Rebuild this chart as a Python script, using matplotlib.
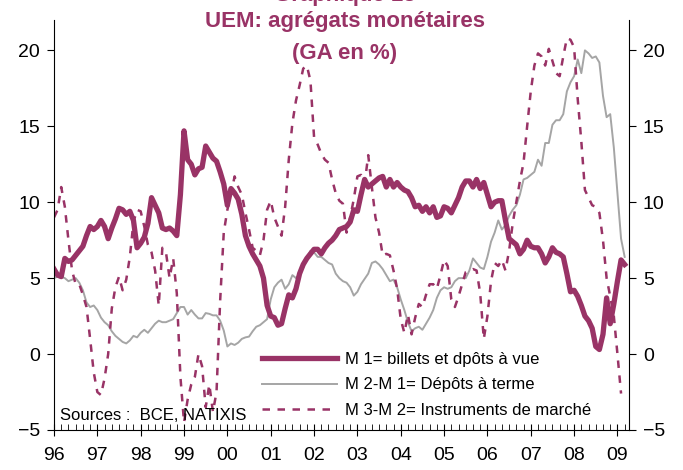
import numpy as np
import matplotlib.pyplot as plt
from matplotlib.ticker import MultipleLocator

plt.rcParams['font.family'] = ['Liberation Sans', 'DejaVu Sans']

# series mensuelles, janvier 1996 -> mars 2009 (GA en %)
debut = 1996
m1 = [5.6, 5.2, 5.1, 6.3, 6.1, 6.2, 6.5, 6.8, 7.1, 7.8, 8.4, 8.2,
      8.4, 8.8, 8.4, 7.6, 8.3, 8.9, 9.6, 9.5, 9.2, 9.4, 8.8, 7.0,
      7.3, 7.7, 8.6, 10.3, 9.8, 9.3, 8.3, 8.2, 8.3, 8.1, 7.8, 10.5,
      14.7, 12.8, 12.5, 11.8, 12.2, 12.3, 13.7, 13.3, 12.9, 12.7, 12.0, 11.2,
      9.8, 10.9, 10.6, 10.2, 9.2, 7.8, 7.1, 6.6, 6.2, 5.8, 5.0, 3.2,
      2.5, 2.4, 1.9, 2.0, 3.0, 3.9, 3.7, 4.3, 5.3, 5.9, 6.3, 6.6,
      6.9, 6.9, 6.6, 7.0, 7.3, 7.5, 7.8, 8.2, 8.3, 8.4, 8.7, 9.5,
      9.4, 10.5, 11.5, 11.0, 11.2, 11.4, 11.6, 11.7, 11.0, 11.5, 11.0, 11.3,
      11.0, 10.8, 10.7, 10.3, 9.7, 9.8, 9.4, 9.7, 9.3, 9.7, 9.0, 9.1,
      9.7, 9.6, 9.3, 9.8, 10.3, 11.0, 11.4, 11.4, 11.0, 11.5, 10.9, 11.3,
      10.5, 9.7, 10.0, 10.1, 10.1, 8.8, 7.6, 7.4, 7.2, 6.6, 6.9, 7.5,
      7.1, 7.0, 7.0, 6.6, 6.0, 6.4, 7.0, 6.7, 6.6, 6.4, 5.3, 4.1,
      4.2, 3.8, 3.2, 2.5, 2.2, 1.7, 0.5, 0.3, 1.3, 3.7, 2.0, 3.3,
      4.8, 6.2, 5.9]
m2_m1 = [5.0, 5.1, 5.1, 5.0, 4.8, 4.9, 5.0, 4.7, 4.2, 3.4, 3.1, 3.2,
         2.9, 2.4, 2.1, 1.9, 1.5, 1.2, 1.0, 0.8, 0.7, 0.9, 1.2, 1.1,
         1.4, 1.6, 1.4, 1.7, 2.0, 2.2, 2.1, 2.1, 2.2, 2.3, 2.7, 3.1,
         3.1, 2.6, 2.9, 2.6, 2.35, 2.35, 2.7, 2.65, 2.55, 2.55, 2.2, 1.55,
         0.5, 0.7, 0.6, 0.75, 1.0, 1.1, 1.15, 1.5, 1.8, 1.9, 2.1, 2.3,
         3.6, 4.4, 4.7, 4.9, 4.3, 4.6, 5.2, 5.0, 5.3, 5.7, 6.3, 6.8,
         6.7, 6.4, 6.4, 6.2, 6.0, 5.9, 5.3, 5.0, 4.8, 4.7, 4.4, 3.85,
         4.1, 4.6, 4.95, 5.3, 6.0, 6.1, 5.9, 5.6, 5.2, 4.8, 4.9, 4.4,
         3.6, 2.9, 2.1, 1.5, 1.7, 1.8, 1.6, 2.0, 2.4, 2.9, 3.7, 4.2,
         4.4, 4.3, 4.4, 4.8, 5.0, 5.0, 5.0, 5.5, 6.3, 6.0, 5.7, 5.6,
         6.4, 7.4, 8.0, 8.8, 8.2, 8.5, 9.1, 9.5, 9.8, 10.5, 11.5, 11.6,
         11.8, 12.0, 12.8, 12.4, 13.9, 13.9, 15.1, 15.4, 15.4, 15.8, 17.3, 17.9,
         18.3, 19.4, 18.5, 20.0, 19.8, 19.5, 19.6, 19.2, 17.0, 15.6, 15.8, 13.6,
         10.6, 7.6, 6.4]
m3_m2 = [9.0, 9.5, 11.0, 9.7, 7.5, 5.5, 4.6, 4.6, 3.9, 3.1, 1.0, -1.2,
         -2.5, -2.7, -1.6, 0.0, 3.0, 4.4, 5.1, 4.2, 4.9, 6.4, 8.7, 9.5,
         9.4, 8.4, 7.2, 6.7, 5.5, 3.2, 7.0, 6.7, 5.0, 6.3, 4.0, -1.5,
         -4.5, -3.0, -2.0, -1.5, 0.0, -0.8, -3.5, -2.0, -3.8, -2.5, 3.5, 8.0,
         9.5, 10.5, 11.7, 11.0, 10.5, 9.3, 8.2, 7.0, 6.8, 6.5, 7.5, 9.5,
         10.1, 9.0, 8.4, 7.8, 9.7, 12.8, 15.2, 16.7, 17.7, 18.8, 19.0, 18.0,
         14.3, 13.8, 13.2, 12.8, 12.6, 11.5, 10.6, 10.1, 9.9, 8.0, 9.0, 10.2,
         11.7, 11.8, 11.2, 13.1, 11.0, 9.0, 8.0, 6.5, 6.6, 6.5, 5.5, 4.3,
         2.3, 1.4, 2.6, 1.3, 2.4, 3.3, 3.1, 3.9, 4.6, 4.6, 4.3, 5.2,
         6.2, 5.8, 3.6, 3.1, 3.8, 4.6, 5.4, 5.5, 5.6, 5.5, 4.0, 1.0,
         2.5, 4.8, 6.0, 5.8, 6.2, 5.5, 6.8, 8.6, 10.0, 11.4, 12.6, 15.0,
         17.3, 19.0, 19.8, 19.6, 19.0, 20.1, 19.3, 18.5, 18.3, 19.6, 20.8, 20.7,
         20.2, 16.8, 14.0, 10.8, 10.3, 9.8, 9.7, 9.3, 7.5, 5.0, 3.8, 2.5,
         0.0, -2.6]
annees = ['96', '97', '98', '99', '00', '01', '02', '03', '04', '05',
          '06', '07', '08', '09']

violet = '#993366'
gris = '#A5A5A5'

fig = plt.figure(figsize=(6.83, 4.70), dpi=100)
ax = fig.add_axes([54/683, 40/470, 575/683, 410/470])

x1 = debut + np.arange(len(m1)) / 12
x2 = debut + np.arange(len(m2_m1)) / 12
x3 = debut + np.arange(len(m3_m2)) / 12

l2, = ax.plot(x2, m2_m1, color=gris, lw=1.4, label='M 2-M 1= Dépôts à terme')
l3, = ax.plot(x3, m3_m2, color=violet, lw=1.8, ls=(0, (3, 3)),
              label='M 3-M 2= Instruments de marché')
l1, = ax.plot(x1, m1, color=violet, lw=3.8, solid_joinstyle='round',
              label='M 1= billets et dpôts à vue')

ax.set_xlim(debut, debut + 159.2 / 12)
ax.set_ylim(-5, 22)
ax.set_yticks(range(-5, 21, 5))
ax.set_xticks(range(debut, debut + len(annees)))
ax.set_xticklabels(annees)
ax.xaxis.set_minor_locator(MultipleLocator(1 / 6))

ax.tick_params(axis='y', direction='out', length=5, labelsize=14,
               left=True, right=True, labelleft=True, labelright=True, pad=5)
ax.tick_params(axis='x', which='major', direction='inout', length=9,
               labelsize=14, pad=8)
ax.tick_params(axis='x', which='minor', direction='in', length=4)
ax.spines['top'].set_visible(False)

ax.legend(handles=[l1, l2, l3], loc='lower left', bbox_to_anchor=(0.362, 0.03),
          frameon=False, fontsize=12, handlelength=4.5, handletextpad=0.48,
          labelspacing=0.62, borderaxespad=0, borderpad=0)

ax.text(1996.14, -4.35, 'Sources :  BCE, NATIXIS', fontsize=12)

fig.text(345/683, 1 - (-4)/470, 'Graphique 13', ha='center', va='center',
         fontsize=16, fontweight='bold', color=violet)
fig.text(345/683, 1 - 22/470, 'UEM: agrégats monétaires', ha='center',
         va='center', fontsize=16, fontweight='bold', color=violet)
fig.text(345/683, 1 - 53/470, '(GA en %)', ha='center', va='center',
         fontsize=16, fontweight='bold', color=violet)

fig.savefig('out.png', dpi=100)
